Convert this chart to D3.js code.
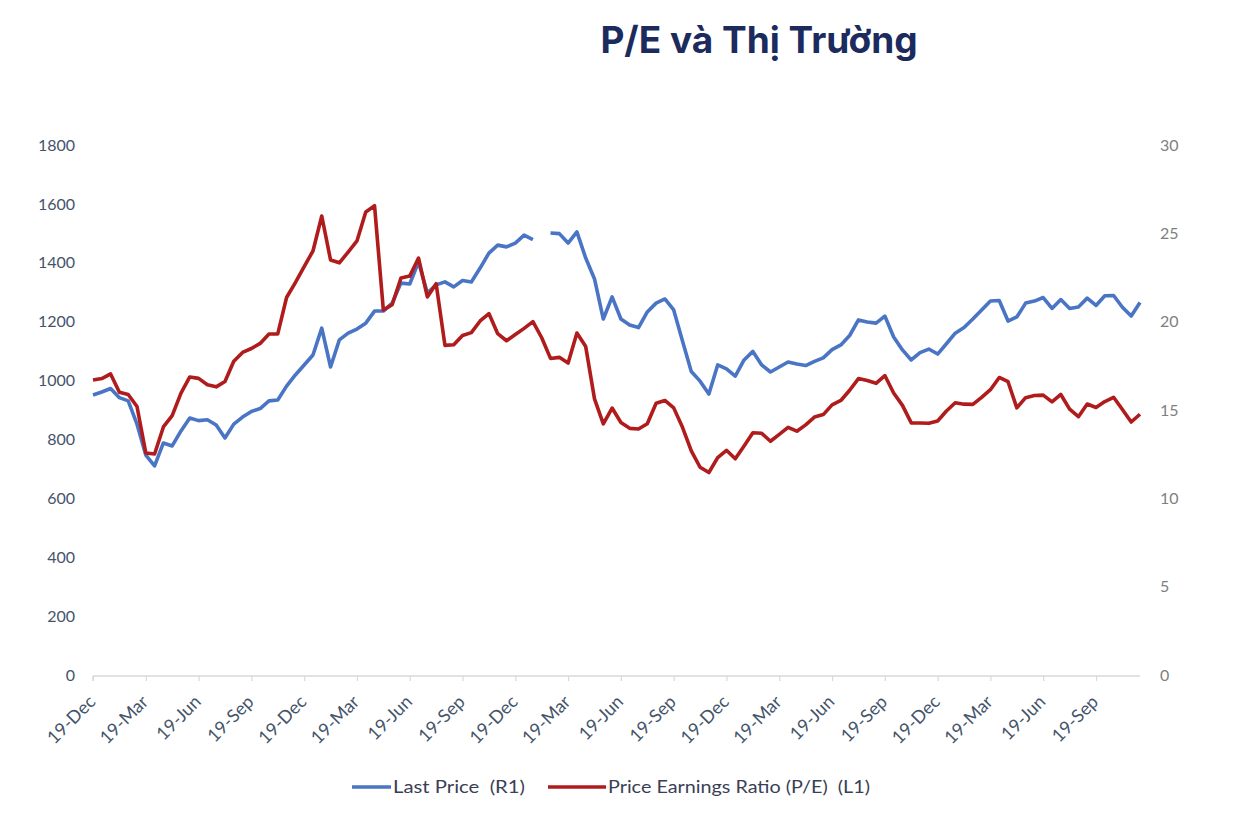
<!DOCTYPE html>
<html>
<head>
<meta charset="utf-8">
<script src="https://cdn.jsdelivr.net/npm/d3@7/dist/d3.min.js"></script>
<style>
  html, body { margin: 0; padding: 0; background: #ffffff; }
  svg { display: block; }
</style>
</head>
<body>
<svg id="chart" width="1242" height="824"></svg>
<script>
// ---- DATA ----
const title = "P/E và Thị Trường";
const xTickLabels = ["19-Dec","19-Mar","19-Jun","19-Sep","19-Dec","19-Mar","19-Jun","19-Sep","19-Dec","19-Mar",
                     "19-Jun","19-Sep","19-Dec","19-Mar","19-Jun","19-Sep","19-Dec","19-Mar","19-Jun","19-Sep"];
const pointsPerQuarter = 6;
const leftTicks = [0,200,400,600,800,1000,1200,1400,1600,1800];
const rightTicks = [0,5,10,15,20,25,30];
const seriesNames = ["Last Price  (R1)", "Price Earnings Ratio (P/E)  (L1)"];

// Last Price (left axis)
const lastPrice = [
  951, 961, 973, 942, 931, 852, 747, 710, 788, 778,
  829, 873, 864, 867, 849, 805, 852, 876, 895, 905,
  931, 934, 981, 1019, 1053, 1087, 1178, 1046, 1138, 1161,
  1175, 1195, 1236, 1236, 1263, 1331, 1328, 1403, 1297, 1325,
  1335, 1318, 1340, 1335, 1382, 1433, 1460, 1454, 1467, 1494,
  1479, null, 1501, 1499, 1467, 1505, 1416, 1345, 1209, 1284,
  1209, 1189, 1180, 1233, 1263, 1277, 1240, 1134, 1031, 998,
  954, 1053, 1040, 1015, 1070, 1099, 1053, 1029, 1046, 1063,
  1056, 1051, 1065, 1077, 1105, 1121, 1153, 1206, 1199, 1195,
  1219, 1148, 1104, 1070, 1095, 1107, 1090, 1125, 1161, 1180,
  1209, 1240, 1270, 1272, 1202, 1216, 1263, 1270, 1282, 1245,
  1275, 1245, 1250, 1280, 1255, 1288, 1289, 1249, 1219, 1265
];

// P/E ratio (right axis)
const peRatio = [
  16.70, 16.78, 17.04, 16.00, 15.88, 15.20, 12.57, 12.51, 14.04, 14.68,
  15.96, 16.87, 16.79, 16.43, 16.31, 16.61, 17.76, 18.26, 18.48, 18.77,
  19.30, 19.31, 21.37, 22.21, 23.12, 24.00, 25.98, 23.49, 23.33, 23.94,
  24.57, 26.21, 26.56, 20.66, 20.96, 22.47, 22.58, 23.60, 21.40, 22.15,
  18.66, 18.69, 19.22, 19.38, 20.04, 20.46, 19.32, 18.92, 19.27, 19.62,
  20.00, 19.09, 17.92, 17.98, 17.66, 19.36, 18.59, 15.63, 14.22, 15.11,
  14.29, 13.96, 13.92, 14.22, 15.38, 15.54, 15.12, 14.02, 12.69, 11.76,
  11.46, 12.30, 12.72, 12.24, 12.96, 13.71, 13.68, 13.23, 13.62, 14.02,
  13.80, 14.16, 14.60, 14.74, 15.29, 15.54, 16.12, 16.78, 16.67, 16.51,
  16.95, 15.96, 15.26, 14.27, 14.26, 14.25, 14.38, 14.94, 15.41, 15.33,
  15.32, 15.72, 16.15, 16.84, 16.60, 15.12, 15.70, 15.82, 15.84, 15.46,
  15.88, 15.05, 14.62, 15.34, 15.14, 15.48, 15.72, 15.03, 14.32, 14.76
];

// ---- LAYOUT ----
const svg = d3.select("#chart");
const margin = { left: 93, right: 1140, top: 145, bottom: 675 };
const colors = { blue: "#4a74c4", red: "#b01c1c", axisText: "#44546a", rightText: "#7f7f7f", axisLine: "#d9d9d9" };
const font = "Lato, 'Open Sans', sans-serif";

const n = lastPrice.length;
const x = d3.scaleLinear().domain([0, n - 1]).range([margin.left, margin.right]);
const yL = d3.scaleLinear().domain([0, 1800]).range([margin.bottom, margin.top]);
const yR = d3.scaleLinear().domain([0, 30]).range([margin.bottom, margin.top]);

// Title
svg.append("text")
  .attr("x", 759).attr("y", 53)
  .attr("text-anchor", "middle")
  .attr("font-family", "Inter, Roboto, sans-serif")
  .attr("font-weight", 700)
  .attr("font-size", 37)
  .attr("fill", "#1b2b5e")
  .text(title);

// Left axis
const leftAxis = d3.axisLeft(yL).tickValues(leftTicks).tickFormat(d3.format("d")).tickSize(0).tickPadding(18);
const gL = svg.append("g").attr("transform", `translate(${margin.left},0)`).call(leftAxis);
gL.select(".domain").remove();
gL.selectAll("text")
  .attr("font-family", font)
  .attr("font-size", 16)
  .attr("fill", colors.axisText);

// Right axis
const rightAxis = d3.axisRight(yR).tickValues(rightTicks).tickFormat(d3.format("d")).tickSize(0).tickPadding(20);
const gR = svg.append("g").attr("transform", `translate(${margin.right},0)`).call(rightAxis);
gR.select(".domain").remove();
gR.selectAll("text")
  .attr("font-family", font)
  .attr("font-size", 16)
  .attr("fill", colors.rightText);

// Bottom axis
const tickIdx = xTickLabels.map((d, i) => i * pointsPerQuarter);
const bottomAxis = d3.axisBottom(x)
  .tickValues(tickIdx)
  .tickSize(5)
  .tickFormat((d, i) => xTickLabels[i]);
const gB = svg.append("g").attr("transform", `translate(0,${margin.bottom + 1})`).call(bottomAxis);
gB.select(".domain").attr("stroke", colors.axisLine).attr("stroke-width", 1.5)
  .attr("d", `M${margin.left},0V5M${margin.left},0H${margin.right}`);
gB.selectAll(".tick line").attr("stroke", colors.axisLine).attr("stroke-width", 1.2);
gB.selectAll(".tick text")
  .attr("font-family", font)
  .attr("font-size", 18)
  .attr("fill", colors.axisText)
  .attr("text-anchor", "end")
  .attr("dy", "0")
  .attr("y", 0).attr("x", 0)
  .attr("transform", "translate(3,27) rotate(-45)");

// Lines
const lineL = d3.line().defined(d => d != null).x((d, i) => x(i)).y(d => yL(d));
const lineR = d3.line().defined(d => d != null).x((d, i) => x(i)).y(d => yR(d));

svg.append("path").datum(lastPrice)
  .attr("fill", "none").attr("stroke", colors.blue)
  .attr("stroke-width", 3.6).attr("stroke-linejoin", "round")
  .attr("d", lineL);

svg.append("path").datum(peRatio)
  .attr("fill", "none").attr("stroke", colors.red)
  .attr("stroke-width", 3.6).attr("stroke-linejoin", "round")
  .attr("d", lineR);

// Legend
const legend = [
  { name: seriesNames[0], color: colors.blue, x1: 352, x2: 391, w: 132 },
  { name: seriesNames[1], color: colors.red, x1: 548, x2: 606, w: 262 }
];
const lg = svg.append("g");
legend.forEach(l => {
  lg.append("line").attr("x1", l.x1).attr("x2", l.x2).attr("y1", 787).attr("y2", 787)
    .attr("stroke", l.color).attr("stroke-width", 3.5);
  lg.append("text").attr("x", l.x2 + 2).attr("y", 787).attr("dy", "0.35em")
    .attr("font-family", font)
    .attr("font-size", 18)
    .attr("fill", "#3a3f55")
    .attr("textLength", l.w)
    .attr("lengthAdjust", "spacingAndGlyphs")
    .style("white-space", "pre")
    .text(l.name);
});
</script>
</body>
</html>
